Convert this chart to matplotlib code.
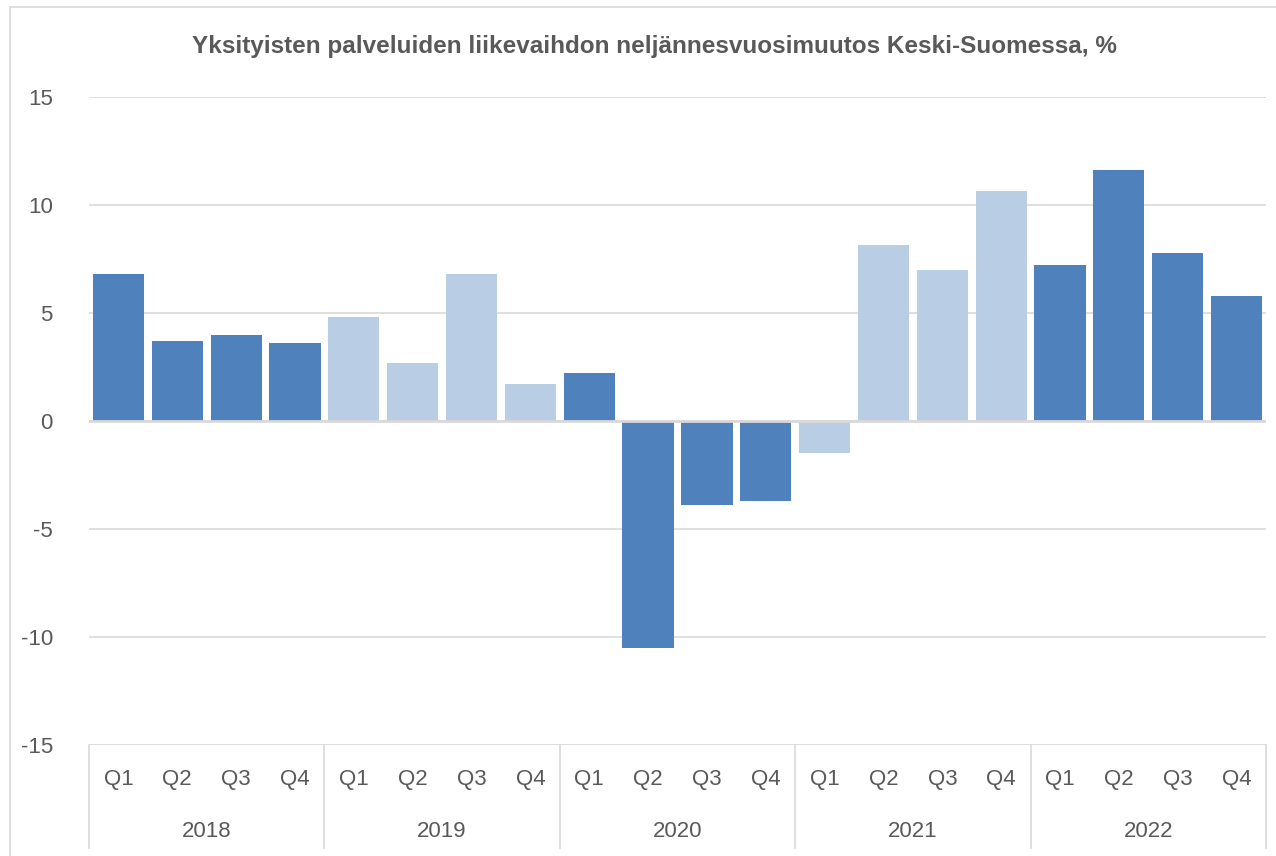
import matplotlib.pyplot as plt
from matplotlib.patches import Rectangle
import matplotlib.transforms as mtransforms

plt.rcParams['font.family'] = ['Liberation Sans', 'DejaVu Sans']
plt.rcParams['axes.unicode_minus'] = False

# Data
years = ['2018', '2019', '2020', '2021', '2022']
quarters = ['Q1', 'Q2', 'Q3', 'Q4']
values = [6.8, 3.7, 4.0, 3.6,
          4.8, 2.7, 6.8, 1.7,
          2.2, -10.5, -3.9, -3.7,
          -1.5, 8.15, 7.0, 10.65,
          7.2, 11.6, 7.8, 5.8]
year_colors = ['#4F81BD', '#B9CDE5', '#4F81BD', '#B9CDE5', '#4F81BD']

title = 'Yksityisten palveluiden liikevaihdon neljännesvuosimuutos Keski-Suomessa, %'
text_col = '#595959'
grid_col = '#D9D9D9'

fig = plt.figure(figsize=(12.76, 8.56), dpi=100)
ax = fig.add_axes([89 / 1276, 1 - 745 / 856, (1266 - 89) / 1276, (745 - 97) / 856])

# figure border
fig.patches.append(Rectangle((10 / 1276, -0.01), 1.1, 1 - 7 / 856 + 0.01,
                             transform=fig.transFigure, fill=False,
                             edgecolor=grid_col, linewidth=1.2))

x = list(range(len(values)))
colors = [year_colors[i // 4] for i in x]
ax.bar(x, values, width=0.87, color=colors, zorder=3)

ax.set_xlim(-0.5, len(values) - 0.5)
ax.set_ylim(-15, 15)
ax.set_yticks([-15, -10, -5, 0, 5, 10, 15])
ax.yaxis.grid(True, color=grid_col, linewidth=1.2)
ax.set_axisbelow(True)
ax.axhline(0, color=grid_col, linewidth=2, zorder=4)
for s in ax.spines.values():
    s.set_visible(False)
ax.tick_params(axis='y', length=0, pad=26, labelsize=16, labelcolor=text_col)
ax.set_xticks([])

# two-level category axis
trans = mtransforms.blended_transform_factory(ax.transData, ax.transAxes)
for i, q in enumerate(x):
    ax.text(q, -0.054, quarters[i % 4], transform=trans, ha='center', va='center',
            fontsize=16, color=text_col)
for j, yr in enumerate(years):
    ax.text(j * 4 + 1.5, -0.133, yr, transform=trans, ha='center', va='center',
            fontsize=16, color=text_col)
for k in range(len(years) + 1):
    ax.plot([k * 4 - 0.5, k * 4 - 0.5], [0, -0.159], transform=trans,
            color=grid_col, linewidth=1.2, clip_on=False)

fig.text(654 / 1276, 1 - 47 / 856, title, ha='center', va='center',
         fontsize=17.5, fontweight='bold', color=text_col)

fig.savefig('out.png', dpi=100)
